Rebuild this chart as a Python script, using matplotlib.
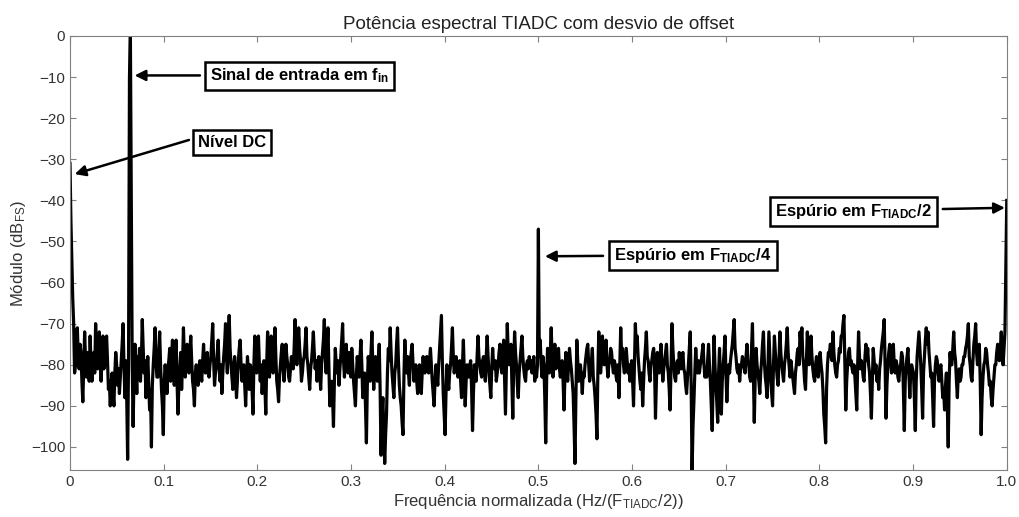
import numpy as np
import matplotlib.pyplot as plt

plt.rcParams['font.family'] = ['Liberation Sans', 'DejaVu Sans']
plt.rcParams['mathtext.fontset'] = 'custom'
plt.rcParams['mathtext.rm'] = 'Liberation Sans'
plt.rcParams['mathtext.it'] = 'Liberation Sans:italic'
plt.rcParams['mathtext.bf'] = 'Liberation Sans:bold'

# espectro (dBFS) em 1025 bins de 0 a F_TIADC/2
espectro_db = [
    -31, -45, -55, -64, -70, -82, -80, -74, -71, -78, -81, -75, -77, -84, -89, -80,
    -72, -79, -83, -77, -79, -84, -73, -80, -84, -79, -77, -82, -70, -76, -81, -77,
    -72, -80, -84, -78, -73, -81, -80, -76, -73, -79, -86, -84, -90, -85, -82, -87,
    -90, -82, -77, -80, -85, -81, -87, -83, -79, -75, -70, -80, -88, -79, -88, -103,
    -78, -10, 0, -40, -80, -95, -82, -75, -81, -87, -78, -80, -76, -84, -79, -69,
    -76, -82, -79, -88, -83, -78, -84, -91, -86, -100, -85, -80, -76, -71, -79, -83,
    -83, -77, -72, -80, -86, -90, -97, -84, -80, -83, -87, -81, -79, -76, -84, -78,
    -74, -81, -85, -78, -74, -84, -92, -85, -81, -77, -86, -80, -71, -78, -83, -79,
    -75, -80, -82, -77, -73, -79, -84, -86, -90, -82, -80, -83, -85, -81, -79, -82,
    -84, -79, -75, -80, -82, -78, -77, -82, -83, -80, -78, -74, -70, -79, -85, -82,
    -80, -77, -74, -81, -84, -80, -87, -82, -78, -75, -70, -78, -82, -74, -68, -76,
    -80, -83, -86, -80, -78, -83, -88, -84, -79, -76, -74, -80, -84, -81, -80, -85,
    -90, -83, -78, -82, -86, -80, -81, -86, -92, -80, -73, -78, -82, -77, -73, -80,
    -84, -80, -87, -83, -79, -85, -92, -80, -72, -77, -83, -79, -73, -77, -82, -78,
    -71, -78, -84, -86, -89, -83, -80, -77, -75, -81, -84, -79, -75, -78, -80, -83,
    -84, -81, -78, -80, -81, -76, -69, -77, -80, -75, -71, -76, -79, -84, -82, -79,
    -78, -75, -71, -78, -80, -83, -86, -81, -79, -76, -72, -77, -81, -79, -84, -80,
    -78, -82, -86, -80, -77, -74, -69, -78, -82, -76, -71, -80, -90, -85, -84, -88,
    -95, -84, -76, -80, -82, -79, -85, -81, -78, -74, -70, -79, -83, -78, -75, -81,
    -82, -77, -79, -83, -76, -80, -84, -87, -90, -83, -78, -81, -83, -78, -74, -80,
    -88, -84, -82, -90, -99, -85, -78, -81, -84, -77, -72, -80, -86, -81, -78, -82,
    -84, -80, -75, -86, -102, -92, -88, -96, -104, -97, -92, -82, -76, -79, -71, -77,
    -82, -85, -88, -82, -80, -75, -71, -79, -85, -88, -90, -94, -97, -83, -74, -79,
    -82, -78, -82, -85, -79, -77, -75, -80, -84, -81, -80, -84, -87, -83, -80, -84,
    -87, -82, -78, -81, -82, -79, -78, -81, -82, -79, -76, -80, -84, -87, -90, -84,
    -80, -82, -85, -80, -76, -72, -68, -79, -87, -92, -97, -87, -80, -83, -86, -82,
    -80, -76, -71, -78, -82, -80, -78, -81, -83, -80, -79, -84, -88, -80, -74, -82,
    -90, -84, -80, -82, -83, -80, -79, -86, -96, -87, -80, -82, -84, -78, -73, -78,
    -80, -82, -83, -79, -78, -81, -84, -78, -73, -78, -82, -85, -88, -81, -76, -80,
    -81, -79, -84, -82, -80, -77, -75, -80, -82, -78, -74, -83, -92, -81, -70, -77,
    -80, -78, -75, -84, -93, -80, -72, -77, -80, -85, -88, -82, -79, -76, -73, -78,
    -81, -83, -84, -80, -79, -81, -78, -80, -79, -82, -80, -78, -84, -81, -83, -80,
    -47, -78, -74, -80, -83, -78, -80, -88, -99, -84, -76, -80, -82, -77, -71, -78,
    -83, -79, -75, -81, -80, -78, -76, -81, -83, -80, -79, -84, -91, -83, -77, -80,
    -84, -80, -76, -79, -81, -84, -87, -95, -104, -88, -74, -79, -84, -81, -80, -83,
    -87, -82, -83, -80, -78, -76, -75, -80, -84, -81, -79, -76, -83, -85, -88, -92,
    -98, -82, -72, -78, -82, -79, -73, -77, -80, -78, -74, -80, -83, -80, -79, -76,
    -77, -80, -82, -79, -80, -83, -84, -80, -88, -80, -71, -78, -76, -80, -82, -79,
    -76, -79, -82, -80, -84, -81, -79, -84, -90, -80, -70, -76, -73, -78, -81, -84,
    -86, -82, -90, -84, -79, -76, -72, -78, -79, -82, -84, -80, -79, -77, -76, -81,
    -93, -84, -77, -80, -82, -78, -75, -80, -84, -81, -79, -77, -75, -80, -82, -86,
    -91, -80, -70, -76, -80, -83, -84, -80, -79, -82, -77, -80, -81, -78, -77, -81,
    -82, -85, -87, -83, -80, -76, -72, -85, -106, -95, -89, -82, -76, -80, -82, -79,
    -82, -80, -79, -77, -75, -80, -83, -81, -83, -79, -75, -80, -84, -90, -96, -84,
    -73, -80, -85, -89, -94, -82, -76, -84, -92, -84, -80, -77, -73, -82, -89, -83,
    -80, -82, -79, -77, -75, -72, -69, -76, -78, -81, -82, -80, -84, -81, -80, -78,
    -79, -81, -82, -78, -75, -79, -80, -83, -84, -76, -70, -82, -94, -83, -76, -80,
    -82, -84, -87, -82, -79, -75, -72, -79, -83, -85, -88, -80, -72, -78, -84, -87,
    -90, -80, -73, -77, -80, -83, -85, -79, -72, -77, -80, -82, -84, -80, -78, -75,
    -71, -77, -80, -83, -79, -81, -83, -85, -87, -82, -80, -77, -76, -80, -72, -75,
    -71, -78, -80, -84, -86, -79, -72, -77, -80, -76, -73, -78, -81, -83, -84, -80,
    -78, -81, -83, -79, -77, -80, -82, -86, -92, -95, -99, -86, -80, -77, -78, -75,
    -75, -79, -72, -77, -80, -82, -83, -80, -79, -76, -77, -73, -73, -70, -68, -80,
    -91, -84, -80, -77, -76, -80, -79, -81, -82, -80, -83, -87, -91, -80, -72, -78,
    -81, -79, -80, -83, -84, -78, -75, -79, -76, -80, -82, -87, -93, -84, -76, -79,
    -82, -80, -84, -82, -86, -81, -79, -76, -74, -72, -69, -80, -93, -85, -80, -77,
    -75, -79, -82, -78, -75, -80, -82, -79, -80, -83, -84, -81, -80, -77, -78, -86,
    -96, -84, -80, -78, -76, -82, -88, -82, -80, -81, -82, -88, -96, -84, -78, -75,
    -72, -76, -80, -86, -93, -82, -78, -74, -71, -75, -72, -77, -80, -83, -82, -88,
    -95, -84, -80, -78, -79, -82, -84, -81, -80, -84, -88, -86, -91, -85, -82, -90,
    -100, -84, -77, -80, -80, -76, -72, -77, -79, -84, -88, -82, -81, -84, -83, -80,
    -80, -78, -78, -76, -75, -73, -70, -78, -80, -83, -84, -79, -75, -73, -70, -77,
    -80, -78, -75, -84, -97, -88, -83, -80, -79, -76, -77, -80, -82, -85, -84, -88,
    -90, -86, -83, -80, -80, -77, -75, -78, -79, -76, -72, -78, -80, -76, -72, -55,
    -40,
]
assert len(espectro_db) == 1025
freq = np.linspace(0, 1, len(espectro_db))

x_ticks = np.arange(0, 1.01, 0.1)
x_tick_labels = ['0', '0.1', '0.2', '0.3', '0.4', '0.5', '0.6', '0.7', '0.8', '0.9', '1.0']
y_ticks = np.arange(-100, 1, 10)

# anotacoes: texto, centro da caixa, inicio da seta, ponta da seta
anotacoes = [
    (r'Sinal de entrada em $\mathbf{f}_\mathbf{in}$', (0.2455, -9.7), (0.1387, -9.6), (0.069, -9.6)),
    ('Nível DC', (0.173, -25.8), (0.127, -25.3), (0.005, -33.6)),
    (r'Espúrio em $\mathbf{F}_\mathbf{TIADC}\mathbf{/2}$', (0.8367, -42.6), (0.9317, -42.1), (0.998, -41.8)),
    (r'Espúrio em $\mathbf{F}_\mathbf{TIADC}\mathbf{/4}$', (0.665, -53.5), (0.569, -53.5), (0.507, -53.6)),
]

fig = plt.figure(figsize=(10.19, 5.17), dpi=100)
ax = fig.add_axes([0.0687, 0.0909, 0.9193, 0.8395])

ax.plot(freq, espectro_db, color='black', linewidth=2.3)

ax.set_xlim(0, 1)
ax.set_ylim(-105.6, 0)
ax.set_xticks(x_ticks)
ax.set_xticklabels(x_tick_labels)
ax.set_yticks(y_ticks)

for s in ax.spines.values():
    s.set_color('#808080')
    s.set_linewidth(0.8)
ax.tick_params(direction='in', length=4, width=0.8, color='#808080',
               labelcolor='#333333', labelsize=11, top=True, right=True)

ax.set_title('Potência espectral TIADC com desvio de offset', fontsize=13.5, color='#222222', pad=5)
ax.set_xlabel(r'Frequência normalizada (Hz/(F$_{\mathrm{TIADC}}$/2))', fontsize=12, color='#333333', labelpad=2)
ax.set_ylabel(r'Módulo (dB$_{\mathrm{FS}}$)', fontsize=12, color='#333333', labelpad=2)

for texto, centro, inicio, ponta in anotacoes:
    ax.text(centro[0], centro[1], texto, fontsize=12, fontweight='bold',
            ha='center', va='center', zorder=5,
            bbox=dict(boxstyle='square,pad=0.3', facecolor='white', edgecolor='black', linewidth=1.8))
    ax.annotate('', xy=ponta, xytext=inicio, zorder=5,
                arrowprops=dict(arrowstyle='-|>', color='black', linewidth=1.8,
                                mutation_scale=16, shrinkA=0, shrinkB=0))

fig.savefig('out.png', dpi=100)
